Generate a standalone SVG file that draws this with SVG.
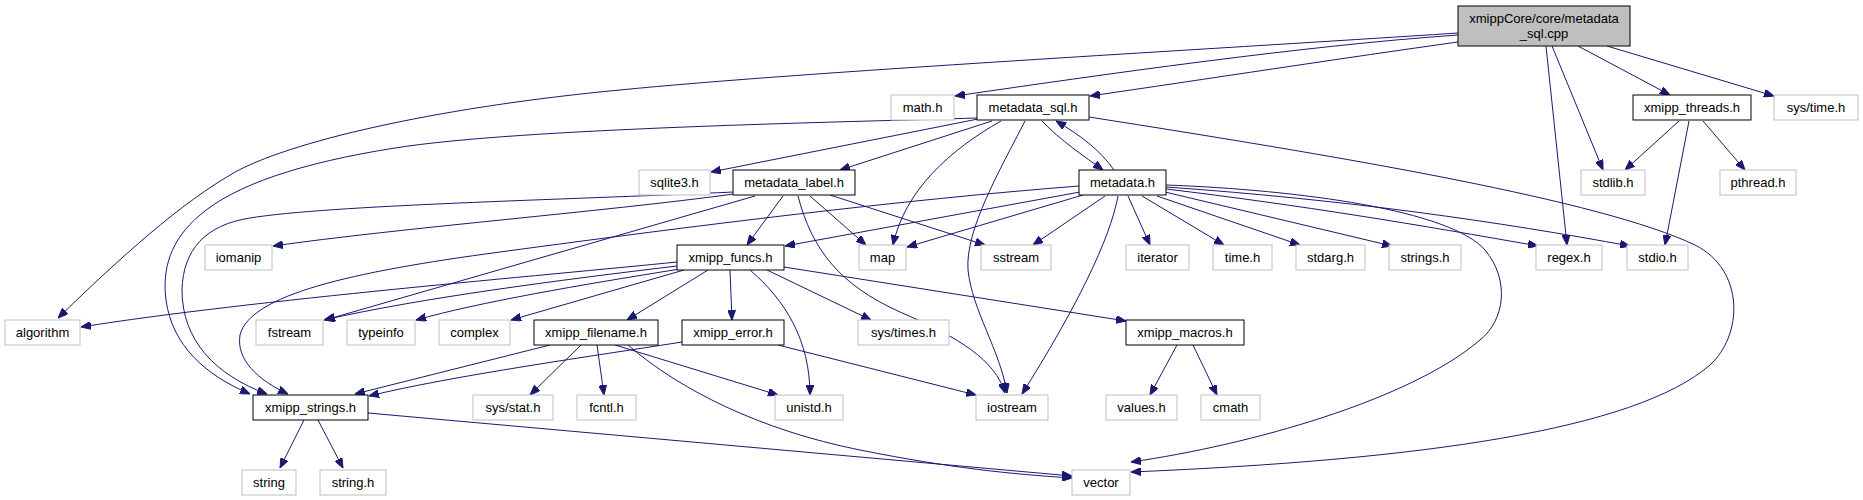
<svg xmlns="http://www.w3.org/2000/svg" width="1863" height="500" viewBox="0 0 1863 500">
<style>
.n rect{fill:#fff;stroke:#000;stroke-width:1}
.g rect{fill:#fff;stroke:#bfbfbf;stroke-width:1}
.m rect{fill:#bfbfbf;stroke:#000;stroke-width:1}
text{font-family:"Liberation Sans",Helvetica,Arial,sans-serif;font-size:13px;fill:#000;text-anchor:middle}
#edges path{fill:none;stroke:#191970;stroke-width:1;marker-end:url(#a)}
</style>
<defs>
<marker id="a" markerWidth="10" markerHeight="8" refX="10" refY="4" orient="auto" markerUnits="userSpaceOnUse"><path d="M0,0 L10,4 L0,8 z" fill="#191970" stroke="#191970" stroke-width="1"/></marker>
</defs>
<rect width="1863" height="500" fill="#fff"/>
<g id="edges">
<path d="M1458,33 C1200,50 800,72 620,90 C450,106 300,138 237,171 C180,203 120,258 58,318"/>
<path d="M1458,35 C1300,46 1100,75 955,96"/>
<path d="M1458,42 C1350,57 1200,80 1090,96"/>
<path d="M1578,46 L1670,95"/>
<path d="M1607,46 L1774,96"/>
<path d="M1552,46 L1603,170"/>
<path d="M1546,46 L1567,245"/>
<path d="M977,118 C850,122 520,128 395,148 C300,163 235,185 200,215 C170,240 162,270 166,300 C172,345 205,375 250,394"/>
<path d="M734,192 C560,200 330,205 250,218 C205,225 183,250 182,290 C182,340 215,375 267,394"/>
<path d="M734,194 C600,212 400,228 273,246"/>
<path d="M1079,186 C900,200 700,225 500,252 C350,272 250,295 240,335 C236,360 258,380 288,394"/>
<path d="M978,119 L711,172"/>
<path d="M992,121 L840,170"/>
<path d="M1001,121 C950,150 905,190 893,245"/>
<path d="M1025,121 C1000,170 965,230 968,270 C972,310 1000,350 1007,393"/>
<path d="M1042,121 C1060,140 1085,157 1103,170"/>
<path d="M1114,170 C1100,150 1080,135 1056,121"/>
<path d="M1089,117 C1350,158 1600,200 1695,245 C1745,270 1743,335 1710,365 C1635,430 1420,460 1131,472"/>
<path d="M1166,185 C1300,190 1450,210 1485,250 C1510,280 1505,320 1480,340 C1410,400 1250,445 1131,462"/>
<path d="M1080,192 L785,246"/>
<path d="M1083,195 L907,247"/>
<path d="M1105,196 L1033,245"/>
<path d="M1118,196 C1110,240 1075,310 1022,394"/>
<path d="M1128,196 L1150,245"/>
<path d="M1142,196 L1224,245"/>
<path d="M1157,196 L1300,245"/>
<path d="M1165,192 L1392,246"/>
<path d="M1166,189 C1300,205 1420,225 1538,246"/>
<path d="M1166,187 C1350,200 1500,222 1630,246"/>
<path d="M755,196 L325,320"/>
<path d="M783,196 L747,245"/>
<path d="M810,196 L866,245"/>
<path d="M830,195 L985,245"/>
<path d="M798,196 C812,250 840,285 900,312 C960,338 995,360 1005,393"/>
<path d="M677,262 C550,275 250,300 81,327"/>
<path d="M677,266 C560,280 420,298 324,320"/>
<path d="M680,269 C580,285 480,302 416,320"/>
<path d="M684,270 L511,320"/>
<path d="M708,270 L627,320"/>
<path d="M730,270 L732,320"/>
<path d="M750,270 C785,300 810,340 810,395"/>
<path d="M767,270 L871,320"/>
<path d="M784,267 L1126,321"/>
<path d="M550,345 L355,394"/>
<path d="M581,345 L530,395"/>
<path d="M597,345 L604,395"/>
<path d="M615,345 L778,395"/>
<path d="M628,345 C680,390 760,430 860,450 C950,468 1010,474 1072,478"/>
<path d="M682,342 C600,355 450,376 369,396"/>
<path d="M778,345 L976,395"/>
<path d="M304,420 L280,468"/>
<path d="M318,420 L343,468"/>
<path d="M368,413 L1072,476"/>
<path d="M1177,345 L1150,395"/>
<path d="M1193,345 L1217,395"/>
<path d="M1679,121 L1625,170"/>
<path d="M1689,121 L1665,245"/>
<path d="M1703,121 L1745,170"/>
</g>
<g id="n_main" class="m"><rect x="1458" y="6" width="172" height="40"/><text x="1544" y="23">xmippCore/core/metadata</text><text x="1544" y="38">_sql.cpp</text></g>
<g id="n_math" class="g"><rect x="891" y="95" width="63" height="25"/><text x="922.5" y="112">math.h</text></g>
<g id="n_metadata_sql" class="n"><rect x="977" y="95" width="112" height="25"/><text x="1033" y="112">metadata_sql.h</text></g>
<g id="n_xmipp_threads" class="n"><rect x="1633" y="95" width="118" height="25"/><text x="1692" y="112">xmipp_threads.h</text></g>
<g id="n_sys_time" class="g"><rect x="1774" y="95" width="84" height="25"/><text x="1816" y="112">sys/time.h</text></g>
<g id="n_sqlite3" class="g"><rect x="639" y="170" width="71" height="25"/><text x="674.5" y="187">sqlite3.h</text></g>
<g id="n_metadata_label" class="n"><rect x="733" y="170" width="122" height="25"/><text x="794" y="187">metadata_label.h</text></g>
<g id="n_metadata" class="n"><rect x="1079" y="170" width="87" height="25"/><text x="1122.5" y="187">metadata.h</text></g>
<g id="n_stdlib" class="g"><rect x="1581" y="170" width="64" height="25"/><text x="1613" y="187">stdlib.h</text></g>
<g id="n_pthread" class="g"><rect x="1720" y="170" width="76" height="25"/><text x="1758" y="187">pthread.h</text></g>
<g id="n_iomanip" class="g"><rect x="205" y="245" width="67" height="25"/><text x="238.5" y="262">iomanip</text></g>
<g id="n_xmipp_funcs" class="n"><rect x="677" y="245" width="107" height="25"/><text x="730.5" y="262">xmipp_funcs.h</text></g>
<g id="n_map" class="g"><rect x="859" y="245" width="47" height="25"/><text x="882.5" y="262">map</text></g>
<g id="n_sstream" class="g"><rect x="981" y="245" width="70" height="25"/><text x="1016" y="262">sstream</text></g>
<g id="n_iterator" class="g"><rect x="1126" y="245" width="63" height="25"/><text x="1157.5" y="262">iterator</text></g>
<g id="n_time" class="g"><rect x="1213" y="245" width="59" height="25"/><text x="1242.5" y="262">time.h</text></g>
<g id="n_stdarg" class="g"><rect x="1296" y="245" width="69" height="25"/><text x="1330.5" y="262">stdarg.h</text></g>
<g id="n_strings" class="g"><rect x="1389" y="245" width="72" height="25"/><text x="1425" y="262">strings.h</text></g>
<g id="n_regex" class="g"><rect x="1536" y="245" width="66" height="25"/><text x="1569" y="262">regex.h</text></g>
<g id="n_stdio" class="g"><rect x="1627" y="245" width="61" height="25"/><text x="1657.5" y="262">stdio.h</text></g>
<g id="n_algorithm" class="g"><rect x="5" y="320" width="75" height="25"/><text x="42.5" y="337">algorithm</text></g>
<g id="n_fstream" class="g"><rect x="256" y="320" width="67" height="25"/><text x="289.5" y="337">fstream</text></g>
<g id="n_typeinfo" class="g"><rect x="347" y="320" width="68" height="25"/><text x="381" y="337">typeinfo</text></g>
<g id="n_complex" class="g"><rect x="439" y="320" width="71" height="25"/><text x="474.5" y="337">complex</text></g>
<g id="n_xmipp_filename" class="n"><rect x="534" y="320" width="124" height="25"/><text x="596" y="337">xmipp_filename.h</text></g>
<g id="n_xmipp_error" class="n"><rect x="682" y="320" width="102" height="25"/><text x="733" y="337">xmipp_error.h</text></g>
<g id="n_sys_times" class="g"><rect x="858" y="320" width="91" height="25"/><text x="903.5" y="337">sys/times.h</text></g>
<g id="n_xmipp_macros" class="n"><rect x="1126" y="320" width="118" height="25"/><text x="1185" y="337">xmipp_macros.h</text></g>
<g id="n_xmipp_strings" class="n"><rect x="253" y="395" width="115" height="25"/><text x="310.5" y="412">xmipp_strings.h</text></g>
<g id="n_sys_stat" class="g"><rect x="473" y="395" width="80" height="25"/><text x="513" y="412">sys/stat.h</text></g>
<g id="n_fcntl" class="g"><rect x="577" y="395" width="59" height="25"/><text x="606.5" y="412">fcntl.h</text></g>
<g id="n_unistd" class="g"><rect x="775" y="395" width="68" height="25"/><text x="809" y="412">unistd.h</text></g>
<g id="n_iostream" class="g"><rect x="976" y="395" width="72" height="25"/><text x="1012" y="412">iostream</text></g>
<g id="n_values" class="g"><rect x="1106" y="395" width="71" height="25"/><text x="1141.5" y="412">values.h</text></g>
<g id="n_cmath" class="g"><rect x="1201" y="395" width="59" height="25"/><text x="1230.5" y="412">cmath</text></g>
<g id="n_string" class="g"><rect x="242" y="470" width="54" height="25"/><text x="269" y="487">string</text></g>
<g id="n_string_h" class="g"><rect x="320" y="470" width="66" height="25"/><text x="353" y="487">string.h</text></g>
<g id="n_vector" class="g"><rect x="1072" y="470" width="58" height="25"/><text x="1101" y="487">vector</text></g>
</svg>
